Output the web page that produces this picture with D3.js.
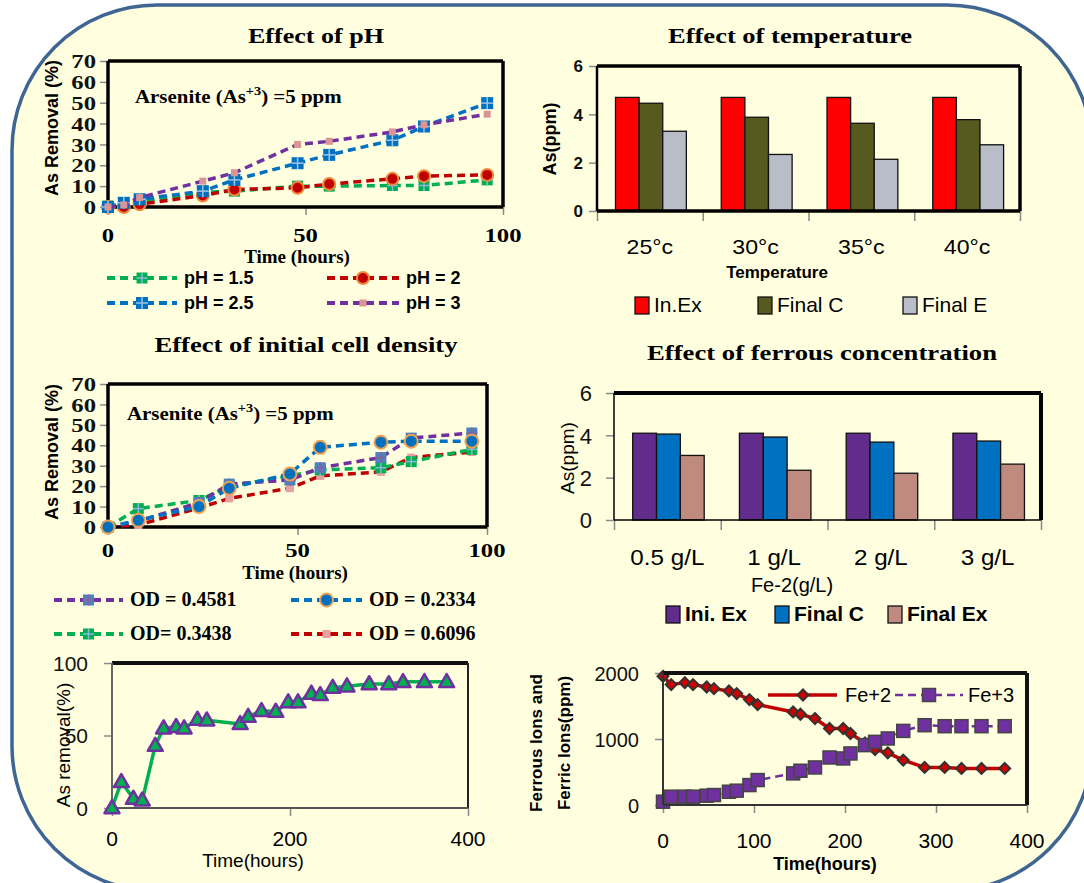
<!DOCTYPE html>
<html>
<head>
<meta charset="utf-8">
<script src="https://cdn.jsdelivr.net/npm/d3@7"></script>
<style>
body{margin:0;background:#fff;}
.serif{font-family:"Liberation Serif","Times New Roman",serif;font-weight:bold;}
.sans{font-family:"Liberation Sans",Arial,sans-serif;}
.bold{font-weight:bold;}
</style>
</head>
<body>
<script>
// ---- data ----
var phTime = [0,4,8,24,32,48,56,72,80,96];
var ph15 = [0.5,1.3,2.4,7,7.6,10,10,10.3,10.3,13];
var ph2  = [0,0,1.3,5.5,8.4,9.2,11,13.5,14.8,15.4];
var ph25 = [0,2,3.7,7.6,13,21,25,32,38.6,49.8];
var ph3  = [0,1,4.5,12.4,16.4,30,31.5,36,39.4,44.5];

var tempCats = ["25°c","30°c","35°c","40°c"];
var tempInEx = [4.7,4.7,4.7,4.7];
var tempFinalC = [4.46,3.88,3.63,3.78];
var tempFinalE = [3.3,2.34,2.14,2.74];

var odTime = [0,8,24,32,48,56,72,80,96];
var od4581 = [0,2.8,12,21,23,29,34,43.5,46];
var od2334 = [0,3.3,10,19,26,39,41.5,42,42];
var od3438 = [0,9,13,20,25,28,29,32,38];
var od6096 = [0,1,9.3,14,19,25,27,34,36.7];

var feCats = ["0.5 g/L","1 g/L","2 g/L","3 g/L"];
var feIniEx = [4.1,4.1,4.1,4.1];
var feFinalC = [4.06,3.92,3.68,3.73];
var feFinalEx = [3.05,2.35,2.21,2.64];

var remTime = [0,10.5,24,34,48.6,58,72,81,96,106.5,144,153,168,184,198,209,224,234,248,264,289,311,327,351,376];
var remVal  = [0,18,6.5,5.3,43,55,56,55,61,60.5,58,63,67,66.5,73,73,79,78,83,84,85.5,85.5,87,87,87];

var ionTime = [0,9,24,33,48,56,72.5,81,95,104,143,151,167,183,198,206,222,233,247,264,287.5,309.5,328,350,375.5];
var fe2Val = [1950,1824,1854,1824,1788,1763,1728,1688,1597,1521,1410,1375,1310,1159,1159,1083,940,840,791,680,569,569,554,554,554];
var fe3Val = [50,126,126,126,141,151,201,217,302,378,479,519,569,720,705,781,907,957,1008,1123,1209,1194,1194,1194,1194];

var width = 1084, height = 883;
var svg = d3.select("body").append("svg").attr("width", width).attr("height", height);
svg.append("rect").attr("width", width).attr("height", height).attr("fill", "#fff");
svg.append("rect").attr("x", 12).attr("y", 5).attr("width", 1080).attr("height", 886)
   .attr("rx", 145).attr("fill", "#FFFFE0").attr("stroke", "#3F6693").attr("stroke-width", 3.5);

function drawLine(g, x1, y1, x2, y2, color, w) {
    g.append("line").attr("x1", x1).attr("y1", y1).attr("x2", x2).attr("y2", y2)
     .attr("stroke", color).attr("stroke-width", w);
}

// top, right, bottom, left
function frame(x, y, w, c) {
    var x0 = x.range()[0], x1 = x.range()[1], y0 = y.range()[1], y1 = y.range()[0];
    drawLine(svg, x0, y0, x1, y0, c[0], w[0]);
    drawLine(svg, x1, y0, x1, y1, c[1], w[1]);
    drawLine(svg, x0, y1, x1, y1, c[2], w[2]);
    drawLine(svg, x0, y0, x0, y1, c[3], w[3]);
}

function text(g, x, y, s, cls, size, anchor, rot) {
    var t = g.append("text").attr("class", cls).attr("font-size", size)
             .attr("text-anchor", anchor || "start").text(s);
    if (rot) t.attr("transform", "translate(" + x + "," + y + ") rotate(" + rot + ")");
    else t.attr("x", x).attr("y", y);
    return t;
}

// the source picture is a little stretched sideways
function stretch(sel, k) {
    sel.each(function(){
        var n = this.getComputedTextLength();
        d3.select(this).attr("textLength", n * k).attr("lengthAdjust", "spacingAndGlyphs");
    });
}

function yAxis(y, x0, vals, cls, size, pad, k) {
    var g = svg.append("g").attr("transform", "translate(" + x0 + ",0)")
        .call(d3.axisLeft(y).tickValues(vals).tickSize(8).tickPadding(pad).tickFormat(d3.format("d")));
    g.select(".domain").remove();
    g.selectAll("line").attr("stroke", "#8a8a8a").attr("stroke-width", 1.5);
    g.selectAll("text").attr("class", cls).attr("font-size", size).attr("fill", "#111").attr("dy", "0.35em");
    if (k) stretch(g.selectAll("text"), k);
}

function xAxis(x, y0, vals, cls, size, lblY, k) {
    var g = svg.append("g").attr("transform", "translate(0," + y0 + ")")
        .call(d3.axisBottom(x).tickValues(vals).tickSize(8).tickFormat(""));
    g.select(".domain").remove();
    g.selectAll("line").attr("stroke", "#8a8a8a").attr("stroke-width", 1.5);
    vals.forEach(function(v){
        var t = text(svg, x(v), lblY, v, cls, size, "middle");
        if (k) stretch(t, k);
    });
}

function marker(g, m, cx, cy) {
    if (m.t == "sqplus") {
        g.append("rect").attr("x", cx - m.s/2).attr("y", cy - m.s/2).attr("width", m.s).attr("height", m.s).attr("fill", m.fill);
        drawLine(g, cx - m.s/2, cy, cx + m.s/2, cy, m.plus, 1.5);
        drawLine(g, cx, cy - m.s/2, cx, cy + m.s/2, m.plus, 1.5);
    } else if (m.t == "circle") {
        g.append("circle").attr("cx", cx).attr("cy", cy).attr("r", m.r).attr("fill", m.fill)
         .attr("stroke", m.stroke).attr("stroke-width", 2);
    } else if (m.t == "sq") {
        g.append("rect").attr("x", cx - m.s/2).attr("y", cy - m.s/2).attr("width", m.s).attr("height", m.s)
         .attr("fill", m.fill).attr("stroke", m.stroke || "none").attr("stroke-width", m.sw || 0);
    } else if (m.t == "tri") {
        var h = m.s * 0.87;
        g.append("path").attr("d", "M" + cx + "," + (cy - h*0.6) + "L" + (cx + m.s/2) + "," + (cy + h*0.4) + "L" + (cx - m.s/2) + "," + (cy + h*0.4) + "Z")
         .attr("fill", m.fill).attr("stroke", m.stroke).attr("stroke-width", 2.5).attr("stroke-linejoin", "round");
    } else if (m.t == "diamond") {
        g.append("path").attr("d", "M" + cx + "," + (cy - m.s/2) + "L" + (cx + m.s/2) + "," + cy + "L" + cx + "," + (cy + m.s/2) + "L" + (cx - m.s/2) + "," + cy + "Z")
         .attr("fill", m.fill).attr("stroke", m.stroke).attr("stroke-width", 2);
    }
}

function series(x, y, xs, ys, color, w, dash, m) {
    var g = svg.append("g");
    var pts = xs.map(function(d, i){ return [x(d), y(ys[i])]; });
    g.append("path").attr("d", d3.line()(pts)).attr("fill", "none").attr("stroke", color)
     .attr("stroke-width", w).attr("stroke-dasharray", dash).attr("stroke-linejoin", "round");
    pts.forEach(function(p){ marker(g, m, p[0], p[1]); });
}

function legendLine(x1, x2, yy, s, label, cls, size) {
    var g = svg.append("g");
    g.append("line").attr("x1", x1).attr("x2", x2).attr("y1", yy).attr("y2", yy).attr("stroke", s.color)
     .attr("stroke-width", 4).attr("stroke-dasharray", "8,5");
    marker(g, s.mk, (x1 + x2)/2, yy);
    text(svg, x2 + 7, yy + 6, label, cls, size);
}

function arsenite(x, y0) {
    var t = text(svg, x, y0, "Arsenite (As", "serif", 19);
    t.append("tspan").attr("dy", -8).attr("font-size", 13).text("+3");
    t.append("tspan").attr("dy", 8).text(") =5 ppm");
    stretch(t, 1.1);
}

function title(x, y, s, w) {
    text(svg, x, y, s, "serif", 22, "middle").attr("textLength", w).attr("lengthAdjust", "spacingAndGlyphs");
}

// ---------- Effect of pH ----------
title(316, 43, "Effect of pH", 136);
var x1 = d3.scaleLinear().domain([0,100]).range([108,503]);
var y1 = d3.scaleLinear().domain([0,70]).range([207,61]);
yAxis(y1, 108, d3.range(0,71,10), "serif", 19, 4, 1.3);
xAxis(x1, 207, [0,50,100], "serif", 19, 242, 1.3);
frame(x1, y1, [3.5,3.5,3.5,3.5], ["#000","#000","#000","#000"]);
text(svg, 0, 0, "As Removal (%)", "sans bold", 18, "middle").attr("transform", "translate(58,128) rotate(-90)");
text(svg, 297, 263, "Time (hours)", "serif", 19, "middle");
arsenite(135, 103);
var phSeries = [
  {vals:ph15, color:"#00B050", mk:{t:"sqplus", fill:"#00B050", plus:"#8DB4E2", s:11}},
  {vals:ph2,  color:"#C00000", mk:{t:"circle", fill:"#C00000", stroke:"#EE8A3C", r:6}},
  {vals:ph25, color:"#0070C0", mk:{t:"sqplus", fill:"#0070C0", plus:"#9DC3E6", s:12}},
  {vals:ph3,  color:"#7030A0", mk:{t:"sq", fill:"#D99694", s:7}}
];
var phLabels = ["pH = 1.5","pH = 2","pH = 2.5","pH = 3"];
phSeries.forEach(function(s){ series(x1, y1, phTime, s.vals, s.color, 3.5, "8,5", s.mk); });
var phLeg = [[107,177,278],[327,399,278],[107,177,303],[327,399,303]];
phSeries.forEach(function(s, i){ legendLine(phLeg[i][0], phLeg[i][1], phLeg[i][2], s, phLabels[i], "sans bold", 18); });

// ---------- bar chart helper ----------
function barChart(o) {
    var x = d3.scaleBand().domain(o.cats).range([o.x0, o.x1]);
    var y = d3.scaleLinear().domain([0,6]).range([o.yb, o.yt]);
    var bw = x.bandwidth();
    var sub = d3.scaleBand().domain([0,1,2]).range([bw*0.175, bw*0.845]);
    var g = svg.append("g");
    o.series.forEach(function(vals, k){
        g.selectAll(null).data(vals).enter().append("rect")
         .attr("x", function(d, i){ return x(o.cats[i]) + sub(k); })
         .attr("y", function(d){ return y(d); })
         .attr("width", sub.bandwidth())
         .attr("height", function(d){ return y(0) - y(d); })
         .attr("fill", o.colors[k]).attr("stroke", "#111").attr("stroke-width", 1.3);
    });
    yAxis(y, o.x0, [0,2,4,6], o.ycls, o.ysize, o.ypad);
    var tk = svg.append("g").attr("transform", "translate(0," + o.yb + ")")
        .call(d3.axisBottom(d3.scaleLinear().domain([0,4]).range([o.x0, o.x1])).ticks(4).tickSize(10).tickFormat(""));
    tk.select(".domain").remove();
    tk.selectAll("line").attr("stroke", "#8a8a8a").attr("stroke-width", 1.5);
    o.cats.forEach(function(c){ stretch(text(svg, x(c) + bw/2, o.catY, c, "sans", o.catSize, "middle"), 1.1); });
    frame(d3.scaleLinear().range([o.x0, o.x1]), y, o.fw, ["#000","#000","#000","#000"]);
    o.legend.forEach(function(l, k){
        svg.append("rect").attr("x", l[0]).attr("y", o.legY - 15).attr("width", 14).attr("height", 17)
           .attr("fill", o.colors[k]).attr("stroke", "#111").attr("stroke-width", 1.3);
        text(svg, l[0] + 19, o.legY, l[1], o.legCls, o.legSize);
    });
}

// ---------- Effect of temperature ----------
title(790, 43, "Effect of temperature", 244);
barChart({cats:tempCats, series:[tempInEx, tempFinalC, tempFinalE], colors:["#FF0000","#575A1E","#B8BDC8"],
          x0:597, x1:1020, yt:66, yb:211, ycls:"sans bold", ysize:17, ypad:6, catY:254, catSize:21,
          fw:[3.5,3.5,3.5,2.5], legY:312, legCls:"sans", legSize:21,
          legend:[[635,"In.Ex"],[758,"Final C"],[903,"Final E"]]});
text(svg, 0, 0, "As(ppm)", "sans bold", 18, "middle").attr("transform", "translate(556,139) rotate(-90)");
text(svg, 777, 278, "Temperature", "sans bold", 17, "middle");

// ---------- Effect of initial cell density ----------
title(306, 352, "Effect of initial cell density", 303);
var x3 = d3.scaleLinear().domain([0,100]).range([108,487]);
var y3 = d3.scaleLinear().domain([0,70]).range([527,384]);
yAxis(y3, 108, d3.range(0,71,10), "serif", 19, 4, 1.3);
xAxis(x3, 527, [0,50,100], "serif", 19, 557, 1.3);
frame(x3, y3, [3.5,3.5,3.5,3.5], ["#000","#000","#000","#000"]);
text(svg, 0, 0, "As Removal (%)", "sans bold", 18, "middle").attr("transform", "translate(58,452) rotate(-90)");
text(svg, 295, 579, "Time (hours)", "serif", 19, "middle");
arsenite(127, 420);
var odSeries = [
  {vals:od6096, color:"#C00000", mk:{t:"sq", fill:"#E6A0A0", s:8}},
  {vals:od3438, color:"#00B050", mk:{t:"sqplus", fill:"#00B050", plus:"#8DB4E2", s:11}},
  {vals:od4581, color:"#7030A0", mk:{t:"sqplus", fill:"#4F81BD", plus:"#8064A2", s:11}},
  {vals:od2334, color:"#0070C0", mk:{t:"circle", fill:"#0070C0", stroke:"#F0A050", r:6.5}}
];
odSeries.forEach(function(s){ series(x3, y3, odTime, s.vals, s.color, 3.5, "8,5", s.mk); });
var odLabels = ["OD = 0.6096","OD= 0.3438","OD = 0.4581","OD = 0.2334"];
var odLeg = [[291,362,634],[54,123,634],[54,123,600],[291,362,600]];
odSeries.forEach(function(s, i){ legendLine(odLeg[i][0], odLeg[i][1], odLeg[i][2], s, odLabels[i], "serif", 20); });

// ---------- Effect of ferrous concentration ----------
title(822, 360, "Effect of ferrous concentration", 350);
barChart({cats:feCats, series:[feIniEx, feFinalC, feFinalEx], colors:["#612C8C","#0070C0","#BF8A80"],
          x0:614, x1:1041, yt:393, yb:520, ycls:"sans", ysize:22, ypad:14, catY:565, catSize:22,
          fw:[4,4,1.5,1.5], legY:621, legCls:"sans bold", legSize:21,
          legend:[[666,"Ini. Ex"],[775,"Final C"],[888,"Final Ex"]]});
text(svg, 0, 0, "As(ppm)", "sans", 19, "middle").attr("transform", "translate(574,458) rotate(-90)");
text(svg, 792, 592, "Fe-2(g/L)", "sans", 20, "middle");

// ---------- As removal vs time ----------
var x5 = d3.scaleLinear().domain([0,400]).range([112,468]);
var y5 = d3.scaleLinear().domain([0,100]).range([808,663]);
yAxis(y5, 112, [0,50,100], "sans", 21, 16);
xAxis(x5, 808, [0,200,400], "sans", 21, 846);
frame(x5, y5, [4,2,2,2], ["#111","#222","#555","#666"]);
series(x5, y5, remTime, remVal, "#00B050", 3.5, null, {t:"tri", fill:"#00B050", stroke:"#7030A0", s:15});
text(svg, 0, 0, "As removal(%)", "sans", 19, "middle").attr("transform", "translate(70,745) rotate(-90)");
text(svg, 253, 867, "Time(hours)", "sans", 19, "middle");

// ---------- Ferrous / ferric ions ----------
var x6 = d3.scaleLinear().domain([0,400]).range([663,1027]);
var y6 = d3.scaleLinear().domain([0,2000]).range([805,673]);
yAxis(y6, 663, [0,1000,2000], "sans", 20, 16);
xAxis(x6, 805, [0,100,200,300,400], "sans", 21, 848);
var s2 = {color:"#C00000", mk:{t:"diamond", fill:"#D00000", stroke:"#333", s:11}};
var s3 = {color:"#7030A0", mk:{t:"sq", fill:"#7030A0", stroke:"#444", sw:1.5, s:13}};
series(x6, y6, ionTime, fe2Val, s2.color, 3.5, null, s2.mk);
series(x6, y6, ionTime, fe3Val, s3.color, 2.5, "8,5", s3.mk);
frame(x6, y6, [4,4,2,2], ["#111","#111","#333","#333"]);
var lg = svg.append("g");
lg.append("line").attr("x1", 768).attr("x2", 837).attr("y1", 695).attr("y2", 695).attr("stroke", s2.color).attr("stroke-width", 3.5);
marker(lg, s2.mk, 803, 695);
text(svg, 845, 702, "Fe+2", "sans", 20);
lg.append("line").attr("x1", 895).attr("x2", 963).attr("y1", 695).attr("y2", 695).attr("stroke", s3.color).attr("stroke-width", 2.5).attr("stroke-dasharray", "8,5");
marker(lg, s3.mk, 929, 695);
text(svg, 968, 702, "Fe+3", "sans", 20);
text(svg, 0, 0, "Ferrous Ions  and", "sans bold", 17, "middle").attr("transform", "translate(542,743) rotate(-90)");
text(svg, 0, 0, "Ferric Ions(ppm)", "sans bold", 17, "middle").attr("transform", "translate(570,743) rotate(-90)");
text(svg, 825, 870, "Time(hours)", "sans bold", 18, "middle");
</script>
</body>
</html>
